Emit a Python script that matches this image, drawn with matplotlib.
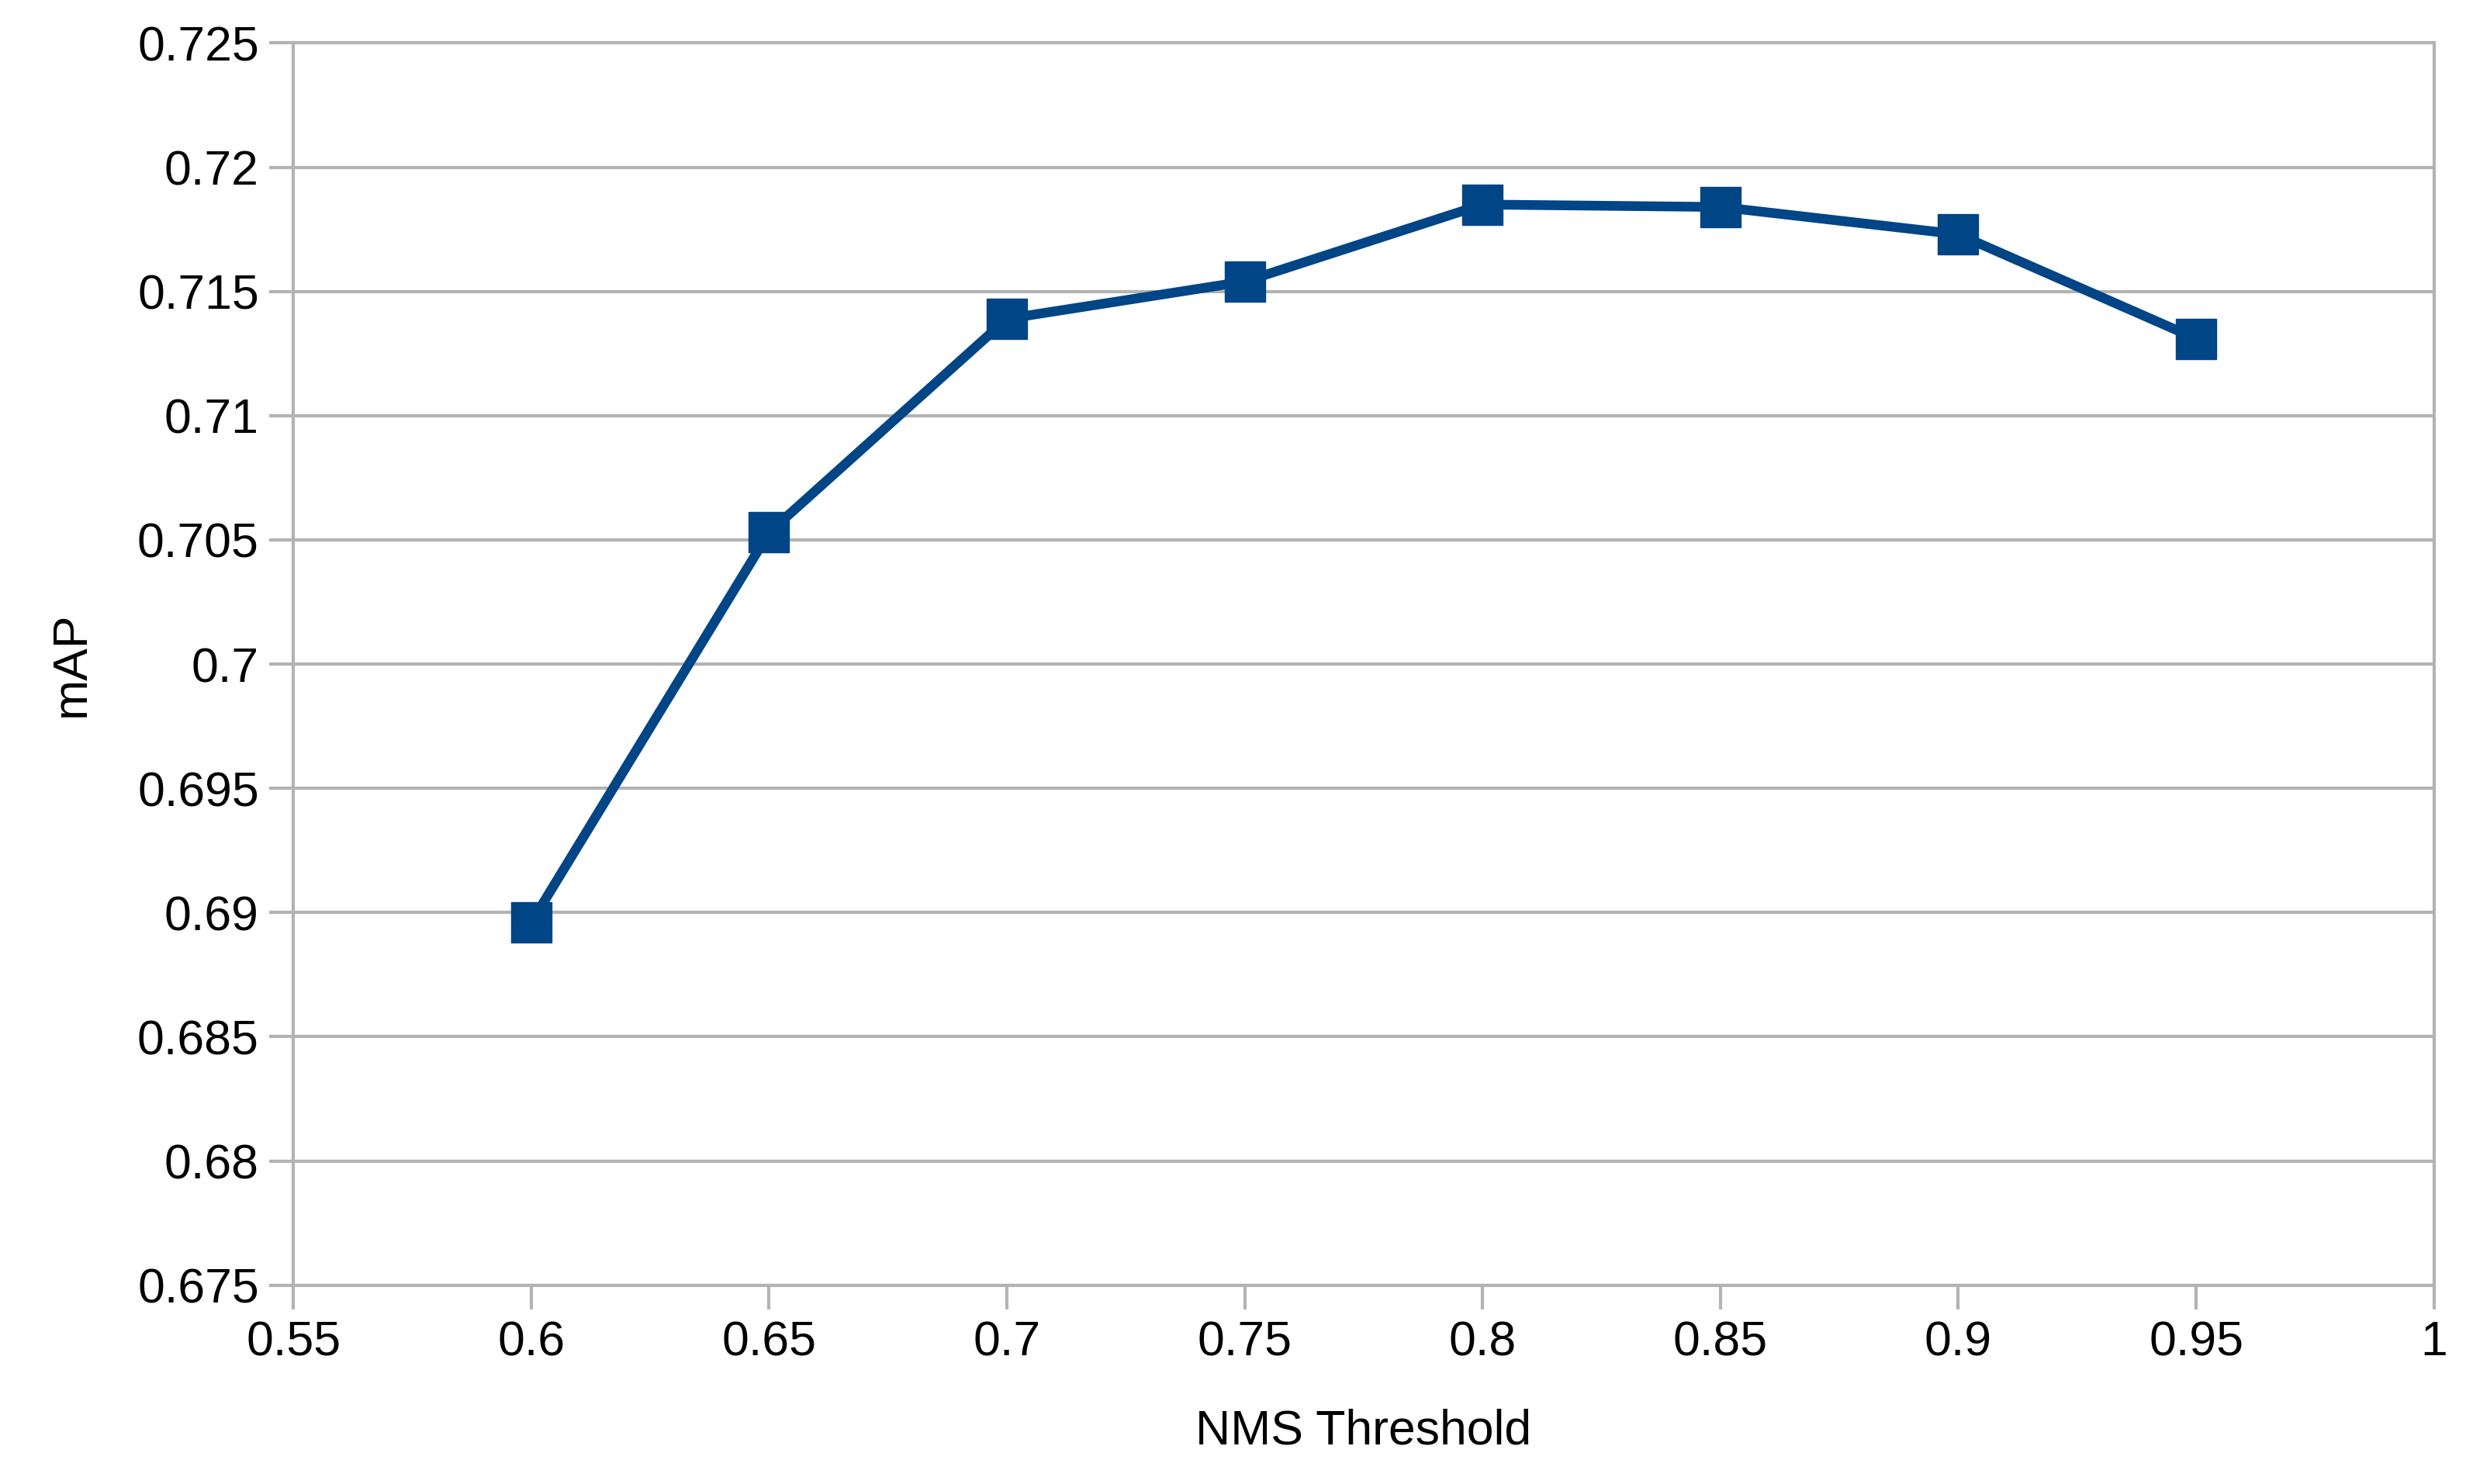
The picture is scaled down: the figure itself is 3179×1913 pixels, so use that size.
import matplotlib
matplotlib.use("Agg")
import matplotlib.pyplot as plt
from matplotlib.ticker import MultipleLocator, FuncFormatter

# NMS threshold vs mAP
thresholds = [0.6, 0.65, 0.7, 0.75, 0.8, 0.85, 0.9, 0.95]
map_values = [0.6896, 0.7053, 0.7139, 0.7154, 0.7185, 0.7184, 0.7173, 0.7131]

plt.rcParams['font.family'] = ['Liberation Sans', 'DejaVu Sans']

fig = plt.figure(figsize=(31.79, 19.13), dpi=100)
ax = fig.add_axes([0.119, 0.134, 0.868, 0.837])

grid_col = '#b3b3b3'
ax.plot(thresholds, map_values, color='#004586', lw=9, marker='s',
        markersize=38, zorder=3)

ax.set_xlim(0.55, 1.0)
ax.set_ylim(0.675, 0.725)
ax.xaxis.set_major_locator(MultipleLocator(0.05))
ax.yaxis.set_major_locator(MultipleLocator(0.005))
fmt = FuncFormatter(lambda v, p: ('%.3f' % v).rstrip('0').rstrip('.'))
ax.xaxis.set_major_formatter(fmt)
ax.yaxis.set_major_formatter(fmt)

ax.grid(axis='y', color=grid_col, lw=3)
for s in ax.spines.values():
    s.set_color(grid_col)
    s.set_linewidth(3)
ax.tick_params(axis='both', labelsize=45, color=grid_col, width=3, length=22,
               pad=10, labelcolor='black')

ax.set_xlabel('NMS Threshold', fontsize=45, labelpad=40)
ax.set_ylabel('mAP', fontsize=45, labelpad=40)

fig.savefig('out.png', dpi=100, facecolor='white')
